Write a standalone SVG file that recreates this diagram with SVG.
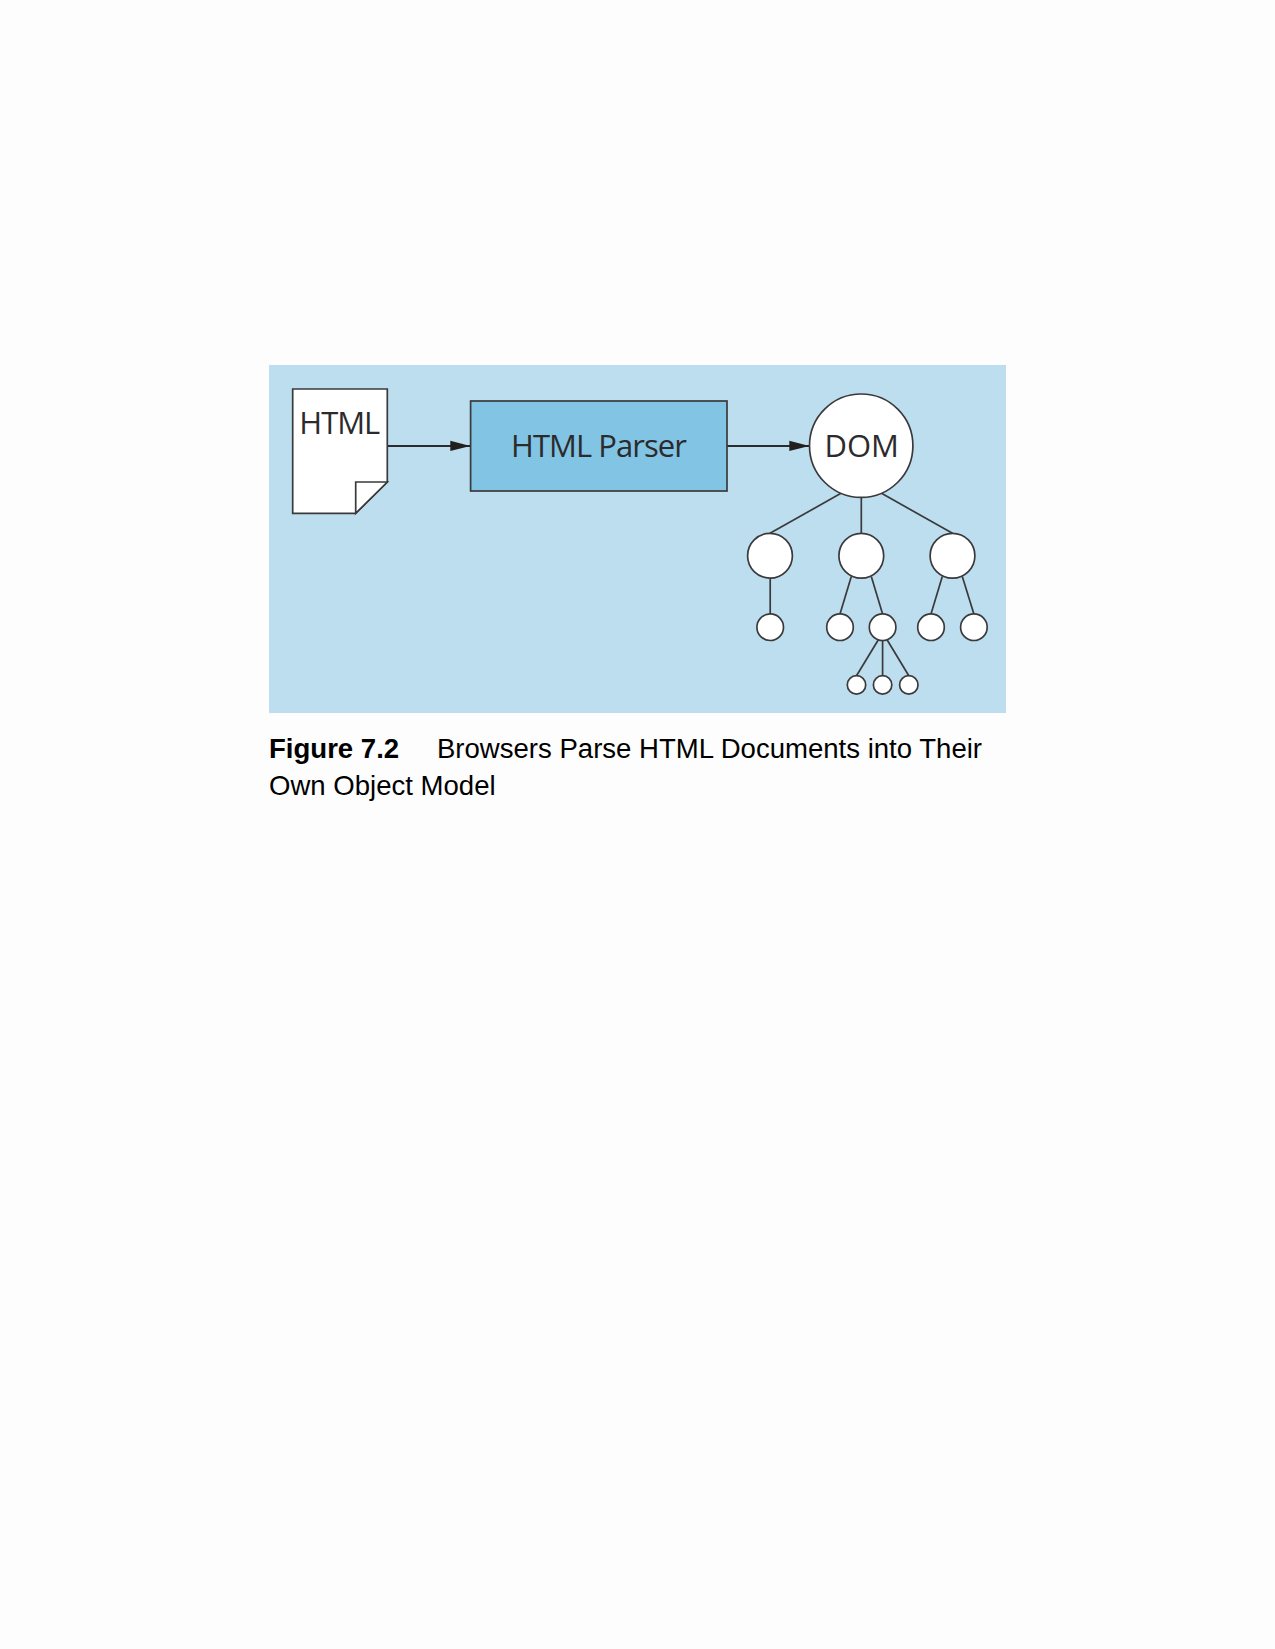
<svg xmlns="http://www.w3.org/2000/svg" width="1275" height="1649" viewBox="0 0 1275 1649">
<defs>
<style>
.s{stroke:#3a3a3c;stroke-width:1.7;}
.n{fill:#fff;stroke:#3a3a3c;stroke-width:1.7;}
.l{font-family:"Open Sans","Noto Sans",sans-serif;font-size:31px;fill:#2b2b2d;}
.c{font-family:"Liberation Sans",Arial,sans-serif;font-size:27.55px;fill:#000;}
.e{stroke:#2b2b2d;stroke-width:2;fill:none;}
</style>
<marker id="a" markerUnits="userSpaceOnUse" markerWidth="21" markerHeight="12" refX="20" refY="6" orient="auto"><path d="M0 0.8L20 6L0 11.2Z" fill="#231f20"/></marker>
</defs>
<rect width="1275" height="1649" fill="#fdfdfd"/>
<rect x="269" y="365" width="737" height="348" fill="#bcdeef"/>
<g id="connectors">
<line class="e" x1="387.3" y1="445.9" x2="470.3" y2="445.9" marker-end="url(#a)"/>
<line class="e" x1="727" y1="445.9" x2="809.3" y2="445.9" marker-end="url(#a)"/>
<g class="s">
<line x1="841" y1="493.3" x2="770" y2="533.3"/>
<line x1="861.3" y1="497" x2="861.3" y2="533.3"/>
<line x1="881.5" y1="493.3" x2="952.5" y2="533.3"/>
<line x1="770.2" y1="577" x2="770.2" y2="614"/>
<line x1="851.3" y1="576.5" x2="840" y2="614"/>
<line x1="871.3" y1="576.5" x2="882.6" y2="614"/>
<line x1="942.3" y1="576.5" x2="931" y2="614"/>
<line x1="962.3" y1="576.5" x2="973.9" y2="614"/>
<line x1="878.2" y1="640" x2="856.5" y2="675.7"/>
<line x1="882.6" y1="640" x2="882.6" y2="675.7"/>
<line x1="887.2" y1="640" x2="908.8" y2="675.7"/>
</g>
</g>
<g id="doc">
<path class="n" d="M292.7 389H387.3V482L355.7 513.3H292.7Z"/>
<path class="n" d="M355.7 513.3V482H387.3Z"/>
<text class="l" x="299.3" y="433.6" textLength="81">HTML</text>
</g>
<g id="parser">
<rect x="470.6" y="401" width="256.4" height="90" fill="#82c4e3" stroke="#3a3a3c" stroke-width="1.7"/>
<text class="l" x="511" y="456.7" textLength="176">HTML Parser</text>
</g>
<g id="dom">
<circle class="n" cx="861.2" cy="445.7" r="51.7"/>
<text class="l" x="824.5" y="456.7" textLength="74.5">DOM</text>
</g>
<g id="n1"><circle class="n" cx="770" cy="555.7" r="22.4"/></g>
<g id="n2"><circle class="n" cx="861.3" cy="555.7" r="22.4"/></g>
<g id="n3"><circle class="n" cx="952.5" cy="555.7" r="22.4"/></g>
<g id="n4"><circle class="n" cx="770.2" cy="627.2" r="13.3"/></g>
<g id="n5"><circle class="n" cx="840" cy="627.2" r="13.3"/></g>
<g id="n6"><circle class="n" cx="882.6" cy="627.2" r="13.3"/></g>
<g id="n7"><circle class="n" cx="931" cy="627.2" r="13.3"/></g>
<g id="n8"><circle class="n" cx="973.9" cy="627.2" r="13.3"/></g>
<g id="n9"><circle class="n" cx="856.5" cy="684.9" r="9.2"/></g>
<g id="n10"><circle class="n" cx="882.6" cy="684.9" r="9.2"/></g>
<g id="n11"><circle class="n" cx="908.8" cy="684.9" r="9.2"/></g>
<g id="caption">
<text class="c" x="269" y="758" font-weight="bold">Figure 7.2</text>
<text class="c" x="437" y="758">Browsers Parse HTML Documents into Their</text>
<text class="c" x="269" y="795">Own Object Model</text>
</g>
</svg>
